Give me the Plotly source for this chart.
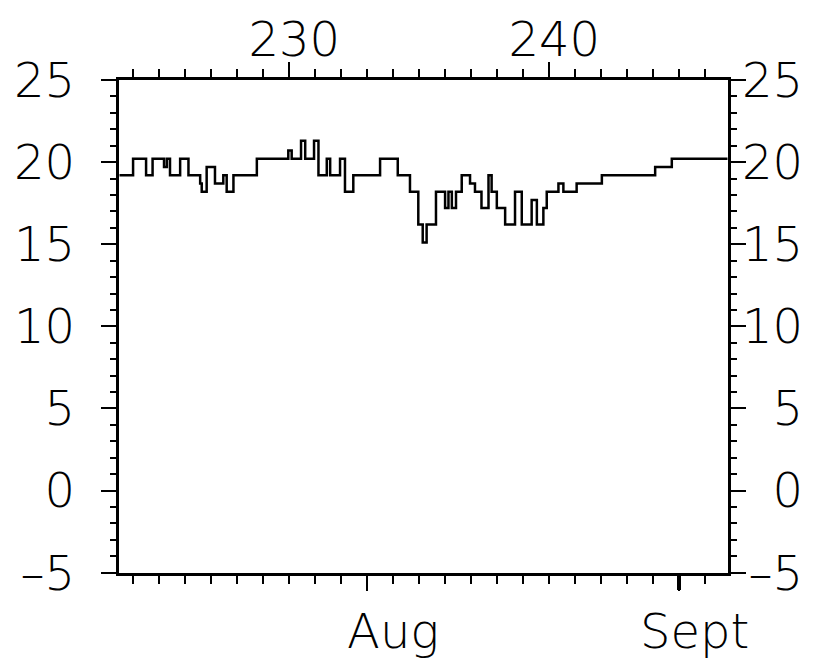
import plotly.graph_objects as go

# ---- data (day of year, temperature) ----
day = [223.47, 224.0, 224.5, 224.75, 225.19, 225.3, 225.42, 225.81, 226.13, 226.58,
       226.64, 226.83, 227.15, 227.47, 227.6, 227.86, 228.76, 229.97, 230.1, 230.46,
       230.62, 230.96, 231.13, 231.45, 231.58, 231.96, 232.15, 232.47, 233.5, 234.18,
       234.65, 234.97, 235.14, 235.29, 235.65, 236.0, 236.13, 236.26, 236.42, 236.64,
       236.96, 237.15, 237.4, 237.67, 237.79, 237.99, 238.31, 238.69, 238.95, 239.33,
       239.53, 239.78, 239.91, 240.36, 240.55, 241.06, 242.03, 244.08, 244.72, 246.87]
temp = [19.2, 20.2, 19.2, 20.2, 19.7, 20.2, 19.2, 20.2, 19.2, 18.7,
        18.2, 19.7, 18.7, 19.2, 18.2, 19.2, 20.2, 20.7, 20.2, 21.3,
        20.2, 21.3, 19.2, 20.2, 19.2, 20.2, 18.2, 19.2, 20.2, 19.2,
        18.2, 16.2, 15.1, 16.2, 18.2, 17.2, 18.2, 17.2, 18.2, 19.2,
        18.7, 18.2, 17.2, 19.2, 18.2, 17.2, 16.2, 18.2, 16.2, 17.7,
        16.2, 17.2, 18.2, 18.7, 18.2, 18.7, 19.2, 19.7, 20.2, 20.2]

x_range = [223.47, 246.87]
y_range = [-5, 25]
top_major = [230, 240]
top_labels = ["230", "240"]
top_label_pos = [230.2, 240.2]
month_ticks = [233, 245]
month_labels = ["Aug", "Sept"]
month_label_pos = [234.0, 245.6]
y_major = [-5, 0, 5, 10, 15, 20, 25]
y_labels = ["\u20135", "0", "5", "10", "15", "20", "25"]

W, H = 822, 662
OFF = 8  # page body margin
L, R, T, B = 119.3 - OFF, 727.7 - OFF, 80.0 - OFF, 572.7 - OFF
FONT = dict(family="DejaVu Sans", size=48, color="black", weight=200)
LC = "black"

fig = go.Figure()
fig.add_trace(go.Scatter(x=day, y=temp, mode="lines", line=dict(color="black", width=2.5, shape="hv"),
                         hoverinfo="skip", showlegend=False))
# invisible traces to activate helper axes
for xa, ya in [("x2", "y"), ("x3", "y"), ("x4", "y"), ("x5", "y"), ("x", "y2"), ("x", "y3"), ("x", "y4")]:
    fig.add_trace(go.Scatter(x=day, y=temp, mode="lines", line=dict(width=0), opacity=0,
                             xaxis=xa, yaxis=ya, hoverinfo="skip", showlegend=False))

xdom = [L / W, R / W]
ydom = [(H - B) / H, (H - T) / H]

base_x = dict(range=x_range, autorange=False, showgrid=False, zeroline=False, fixedrange=True, automargin=False)
base_y = dict(range=y_range, autorange=False, showgrid=False, zeroline=False, fixedrange=True, automargin=False)

fig.update_layout(
    width=W, height=H, margin=dict(l=0, r=0, t=0, b=0, pad=0, autoexpand=False),
    paper_bgcolor="white", plot_bgcolor="white", font=FONT, showlegend=False,
    xaxis=dict(**base_x, domain=xdom, anchor="y", showline=True, linecolor=LC, linewidth=2.5,
               ticks="outside", tickvals=month_ticks, ticklen=16, tickwidth=1.5, tickcolor=LC,
               showticklabels=False,
               minor=dict(ticks="outside", dtick=1, tick0=0, ticklen=9, tickwidth=1.5, tickcolor=LC, showgrid=False)),
    xaxis2=dict(**base_x, overlaying="x", side="top", anchor="y", showline=True, linecolor=LC, linewidth=2.5,
                ticks="outside", tickvals=top_major, ticklen=15, tickwidth=1.5, tickcolor=LC,
                showticklabels=False,
                minor=dict(ticks="outside", dtick=1, tick0=0, ticklen=8, tickwidth=1.5, tickcolor=LC, showgrid=False)),
    xaxis3=dict(**base_x, overlaying="x", side="bottom", anchor="y", showline=False,
                ticks="outside", tickvals=[month_ticks[1]], ticklen=16, tickwidth=3.5, tickcolor=LC,
                showticklabels=False),
    xaxis4=dict(**base_x, overlaying="x", side="bottom", anchor="free", position=(H - (599 - OFF)) / H,
                showline=False, ticks="", tickvals=month_label_pos, ticktext=month_labels,
                showticklabels=True, tickfont=FONT),
    xaxis5=dict(**base_x, overlaying="x", side="top", anchor="free", position=(H - (66 - OFF)) / H,
                showline=False, ticks="", tickvals=top_label_pos, ticktext=top_labels,
                showticklabels=True, tickfont=FONT),
    yaxis=dict(**base_y, domain=ydom, anchor="x", showline=True, linecolor=LC, linewidth=2.5,
               ticks="outside", tickvals=y_major, ticklen=16, tickwidth=1.5, tickcolor=LC,
               showticklabels=False,
               minor=dict(ticks="outside", dtick=1, tick0=0, ticklen=7, tickwidth=1.5, tickcolor=LC, showgrid=False)),
    yaxis2=dict(**base_y, overlaying="y", side="right", anchor="x", showline=True, linecolor=LC, linewidth=2.5,
                ticks="outside", tickvals=y_major, ticklen=16, tickwidth=1.5, tickcolor=LC,
                showticklabels=False,
                minor=dict(ticks="outside", dtick=1, tick0=0, ticklen=7, tickwidth=1.5, tickcolor=LC, showgrid=False)),
    yaxis3=dict(**base_y, overlaying="y", side="left", anchor="free", position=(75 - OFF) / W,
                showline=False, ticks="", tickvals=y_major, ticktext=y_labels,
                showticklabels=True, tickfont=FONT),
    yaxis4=dict(**base_y, overlaying="y", side="left", anchor="free", position=(803 - OFF) / W,
                showline=False, ticks="", tickvals=y_major, ticktext=y_labels,
                showticklabels=True, tickfont=FONT),
)

fig.write_html("out.html")
